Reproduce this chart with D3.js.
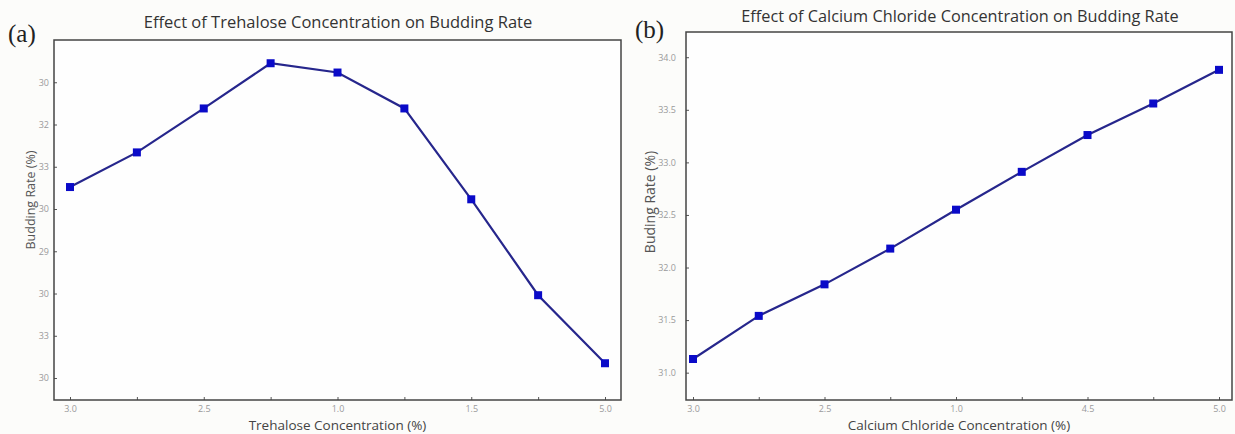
<!DOCTYPE html>
<html><head><meta charset="utf-8">
<script src="https://cdn.jsdelivr.net/npm/d3@7"></script>
<style>
html,body{margin:0;padding:0;background:#fcfcfa;}
svg{display:block;}
</style></head>
<body>
<svg id="c" width="1235" height="434"></svg>
<script>
// ---- data ----
const xTickLabelsA = ["3.0", "", "2.5", "", "1.0", "", "1.5", "", "5.0"];
const budA = [34.52, 35.34, 36.38, 37.45, 37.23, 36.38, 34.23, 31.96, 30.35];
const yTickValuesA = [37, 36, 35, 34, 33, 32, 31, 30];
const yTickLabelsA = ["30", "32", "33", "30", "29", "30", "33", "30"];

const xTickLabelsB = ["3.0", "", "2.5", "", "1.0", "", "4.5", "", "5.0"];
const budB = [31.13, 31.54, 31.84, 32.18, 32.55, 32.91, 33.26, 33.56, 33.88];
const yTickValuesB = [34.0, 33.5, 33.0, 32.5, 32.0, 31.5, 31.0];
const yTickLabelsB = ["34.0", "33.5", "33.0", "32.5", "32.0", "31.5", "31.0"];

const svg = d3.select("#c");
const font = "'Open Sans', sans-serif";

function panel(o) {
  const g = svg.append("g");
  const x = d3.scaleLinear().domain([0, o.values.length - 1]).range([o.px0, o.px1]);
  const y = d3.scaleLinear().domain(o.ydom).range([o.bottom, o.top]);
  g.append("rect").attr("x", o.left).attr("y", o.top).attr("width", o.right - o.left)
    .attr("height", o.bottom - o.top).attr("fill", "#fefefe");
  const ya = d3.axisRight(y).tickValues(o.yticks).tickSize(3)
    .tickFormat((d, i) => o.ylabels[i]);
  const yg = g.append("g").attr("transform", `translate(${o.left},0)`).call(ya);
  yg.select(".domain").remove();
  yg.selectAll(".tick line").attr("stroke", "#555").attr("stroke-width", 1);
  yg.selectAll(".tick text").attr("x", o.ylabOff).attr("text-anchor", "end")
    .attr("fill", "#9a9a9a").style("font-family", font).style("font-size", "9px");
  const xa = d3.axisTop(x).tickValues(d3.range(o.values.length)).tickSize(3)
    .tickFormat((d, i) => o.xlabels[i]);
  const xg = g.append("g").attr("transform", `translate(0,${o.bottom})`).call(xa);
  xg.select(".domain").remove();
  xg.selectAll(".tick line").attr("stroke", "#555").attr("stroke-width", 1);
  xg.selectAll(".tick text").attr("y", 11.5).attr("dy", "0").attr("fill", "#9a9a9a")
    .style("font-family", font).style("font-size", "9px");
  g.append("rect").attr("x", o.left).attr("y", o.top).attr("width", o.right - o.left)
    .attr("height", o.bottom - o.top).attr("fill", "none").attr("stroke", "#444").attr("stroke-width", 1.5);
  const line = d3.line().x((d, i) => x(i)).y(d => y(d));
  g.append("path").datum(o.values).attr("d", line).attr("fill", "none")
    .attr("stroke", "#26268c").attr("stroke-width", 2.2);
  g.selectAll("rect.m").data(o.values).enter().append("rect").attr("class", "m")
    .attr("x", (d, i) => x(i) - 4).attr("y", d => y(d) - 4)
    .attr("width", 8).attr("height", 8).attr("fill", "#0a0ac8");
  g.append("text").attr("x", o.titleX).attr("y", o.titleY).attr("text-anchor", "middle")
    .attr("fill", "#333").style("font-family", font).style("font-size", o.titleSize).text(o.title);
  g.append("text").attr("x", (o.left + o.right) / 2).attr("y", 429.5).attr("text-anchor", "middle")
    .attr("fill", "#444").style("font-family", font).style("font-size", "13.5px").text(o.xtitle);
  g.append("text").attr("transform", `translate(${o.ytX},${o.ytY}) rotate(-90)`).attr("text-anchor", "middle")
    .attr("fill", "#555").style("font-family", font).style("font-size", o.ytSize).text(o.ytitle);
  g.append("text").attr("x", o.tagX).attr("y", o.tagY).attr("fill", "#222")
    .style("font-family", "'Liberation Serif', serif").style("font-size", "25px").text(o.tag);
}

panel({
  values: budA, xlabels: xTickLabelsA, yticks: yTickValuesA, ylabels: yTickLabelsA,
  ydom: [29.48, 38.0], left: 54, right: 621, top: 40, bottom: 400, px0: 70, px1: 605, ylabOff: -5,
  title: "Effect of Trehalose Concentration on Budding Rate", titleX: 338, titleY: 28, titleSize: "16.5px",
  xtitle: "Trehalose Concentration (%)", ytitle: "Budding Rate (%)", ytX: 35, ytY: 200, ytSize: "12.5px",
  tag: "(a)", tagX: 8, tagY: 42
});
panel({
  values: budB, xlabels: xTickLabelsB, yticks: yTickValuesB, ylabels: yTickLabelsB,
  ydom: [30.74, 34.24], left: 686, right: 1232, top: 32, bottom: 400, px0: 693, px1: 1219, ylabOff: -10,
  title: "Effect of Calcium Chloride Concentration on Budding Rate", titleX: 960, titleY: 22, titleSize: "16.3px",
  xtitle: "Calcium Chloride Concentration (%)", ytitle: "Buding Rate (%)", ytX: 655, ytY: 202, ytSize: "14px",
  tag: "(b)", tagX: 635, tagY: 38
});
</script>
</body></html>
